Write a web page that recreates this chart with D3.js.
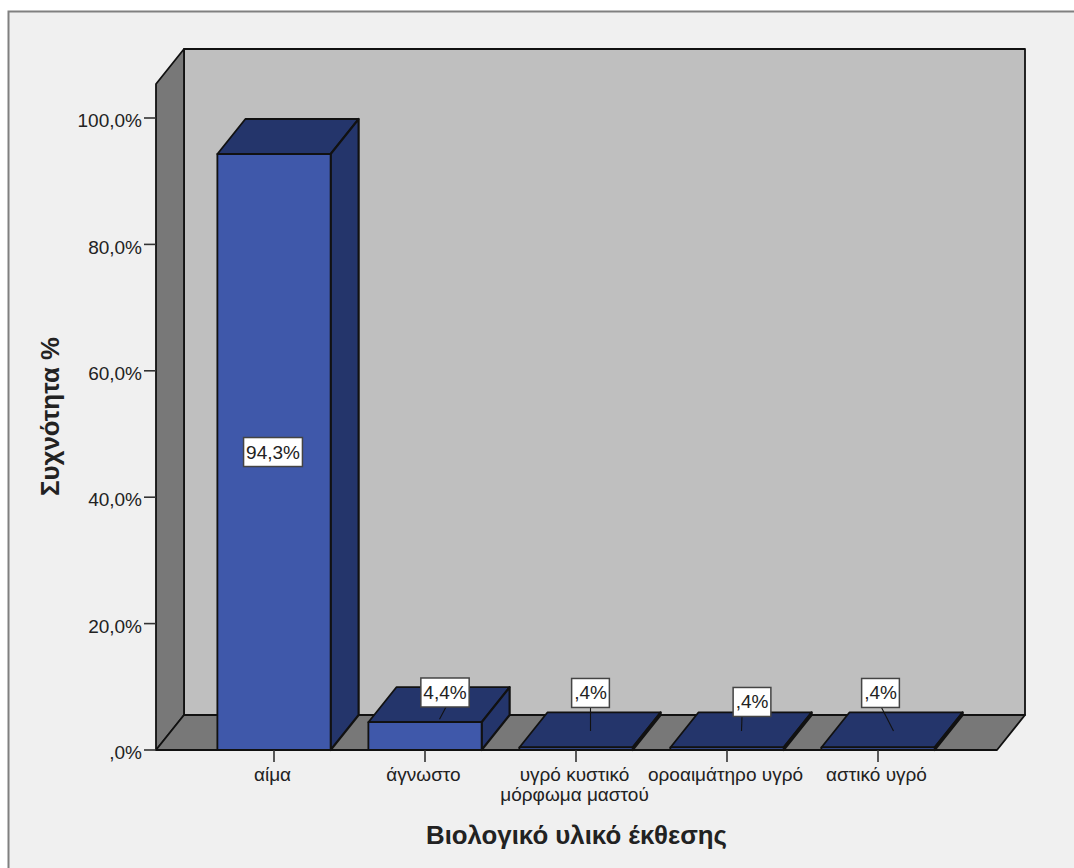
<!DOCTYPE html>
<html>
<head>
<meta charset="utf-8">
<script src="https://cdnjs.cloudflare.com/ajax/libs/d3/7.8.5/d3.min.js"></script>
<style>
  html, body { margin: 0; padding: 0; background: #fff; }
  svg { display: block; }
  text { font-family: "Liberation Sans", Arial, sans-serif; fill: #222; }
</style>
</head>
<body>
<svg id="chart" width="1074" height="868"></svg>
<script>
// Exposure material frequencies
const categories = ["αίμα", "άγνωστο", "υγρό κυστικό\nμόρφωμα μαστού", "οροαιμάτηρο υγρό", "αστικό υγρό"];
const percentages = [94.3, 4.4, 0.4, 0.4, 0.4];
const yTicks = [0, 20, 40, 60, 80, 100];
const xTitle = "Βιολογικό υλικό έκθεσης";
const yTitle = "Συχνότητα %";

// Callout placement relative to each bar's front-top centre:
// box centre offset, leader start shift inside the box, leader end offset
const calloutBox = [[-1, 298], [20, -29.7], [14.5, -54.5], [25, -45.5], [2.5, -54.5]];
const leaderStartShift = [0, 1, 0, -10, 1];
const leaderEnd = [null, [14.5, -3], [14.5, -16.5], [14.5, -16.5], [15.5, -16.5]];

const frontLeft = 156, frontRight = 997, frontBottom = 750, depthX = 28, depthY = 35;
const wallTop = 49;
const labelSize = 19;

const svg = d3.select("#chart");

const y = d3.scaleLinear().domain([0, 100]).range([frontBottom, 118]);
const x = d3.scaleBand().domain(categories).range([198.5, 953.5]).paddingInner(0.25).paddingOuter(0.125);

const decimalComma = d3.formatLocale({ decimal: ",", thousands: ".", grouping: [3], currency: ["", ""] });
const oneDecimal = decimalComma.format(".1f");
const percentText = v => oneDecimal(v).replace(/^0,/, ",") + "%";

// Chart panel
svg.append("rect").attr("x", 8.5).attr("y", 11.5).attr("width", 1080).attr("height", 880)
  .attr("fill", "#f0f0f0").attr("stroke", "#808080").attr("stroke-width", 2);

const poly = (pts, fill, width = 1.8) => svg.append("path")
  .attr("d", d3.line()(pts) + "Z")
  .attr("fill", fill)
  .attr("stroke", "#111")
  .attr("stroke-width", width)
  .attr("stroke-linejoin", "round");

const backX0 = frontLeft + depthX, backX1 = frontRight + depthX, backBottom = frontBottom - depthY;

// Back wall, side wall and floor
poly([[backX0, wallTop], [backX1, wallTop], [backX1, backBottom], [backX0, backBottom]], "#bfbfbf");
poly([[frontLeft, wallTop + depthY], [backX0, wallTop], [backX0, backBottom], [frontLeft, frontBottom]], "#787878");
poly([[frontLeft, frontBottom], [backX0, backBottom], [backX1, backBottom], [frontRight, frontBottom]], "#787878");

// Extruded bars, each with top, right side and front faces
categories.forEach((c, i) => {
  const x0 = x(c), x1 = x0 + x.bandwidth(), yt = y(percentages[i]);
  poly([[x0, yt], [x0 + depthX, yt - depthY], [x1 + depthX, yt - depthY], [x1, yt]], "#24356b");
  poly([[x1, yt], [x1 + depthX, yt - depthY], [x1 + depthX, frontBottom - depthY], [x1, frontBottom]], "#24356b", 2.2);
  poly([[x0, yt], [x1, yt], [x1, frontBottom], [x0, frontBottom]], "#3f58aa");
});

// Axes
const yAxis = d3.axisLeft(y).tickValues(yTicks).tickSize(12).tickPadding(2).offset(0).tickFormat(percentText);
const yG = svg.append("g").attr("transform", `translate(${frontLeft},0)`).call(yAxis);
yG.select(".domain").remove();
yG.selectAll("line").attr("stroke", "#333").attr("stroke-width", 1.6);
yG.selectAll("text").attr("font-size", labelSize).attr("font-family", "Liberation Sans")
  .attr("fill", "#333").attr("dy", "0.48em");

const xAxis = d3.axisBottom(x).tickSize(12).tickPadding(4).tickFormat("");
const xG = svg.append("g").attr("transform", `translate(0,${frontBottom})`).call(xAxis);
xG.select(".domain").remove();
xG.selectAll("line").attr("stroke", "#333").attr("stroke-width", 1.6);
xG.selectAll(".tick").append("g").each(function (c) {
  d3.select(this).selectAll("text").data(c.split("\n")).join("text")
    .attr("text-anchor", "middle")
    .attr("x", -1.5)
    .attr("y", (d, i) => 31 + i * 20)
    .attr("font-size", labelSize)
    .attr("fill", "#333")
    .text(d => d);
});

// Value callouts
categories.forEach((c, i) => {
  const cx = x(c) + x.bandwidth() / 2, yt = y(percentages[i]);
  const bx = cx + calloutBox[i][0], by = yt + calloutBox[i][1];
  const g = svg.append("g");
  const t = g.append("text").attr("x", bx).attr("y", by + 6.5).attr("text-anchor", "middle")
    .attr("font-size", labelSize).attr("fill", "#222").text(percentText(percentages[i]));
  const w = t.node().getComputedTextLength() + 5, h = 29;
  if (leaderEnd[i]) {
    g.insert("line", "text").attr("x1", bx + leaderStartShift[i]).attr("y1", by + h / 2)
      .attr("x2", cx + leaderEnd[i][0]).attr("y2", yt + leaderEnd[i][1])
      .attr("stroke", "#111").attr("stroke-width", 1.1);
  }
  g.insert("rect", "text").attr("x", bx - w / 2).attr("y", by - h / 2).attr("width", w).attr("height", h)
    .attr("fill", "#fff").attr("stroke", "#444").attr("stroke-width", 1.5);
});

// Axis titles
svg.append("text").attr("x", 576.5).attr("y", 844).attr("text-anchor", "middle")
  .attr("font-size", 25.8).attr("font-weight", "bold").attr("fill", "#111").text(xTitle);
svg.append("text").attr("transform", "translate(59,416.5) rotate(-90)").attr("text-anchor", "middle")
  .attr("font-size", 25.8).attr("font-weight", "bold").attr("fill", "#111").text(yTitle);
</script>
</body>
</html>
